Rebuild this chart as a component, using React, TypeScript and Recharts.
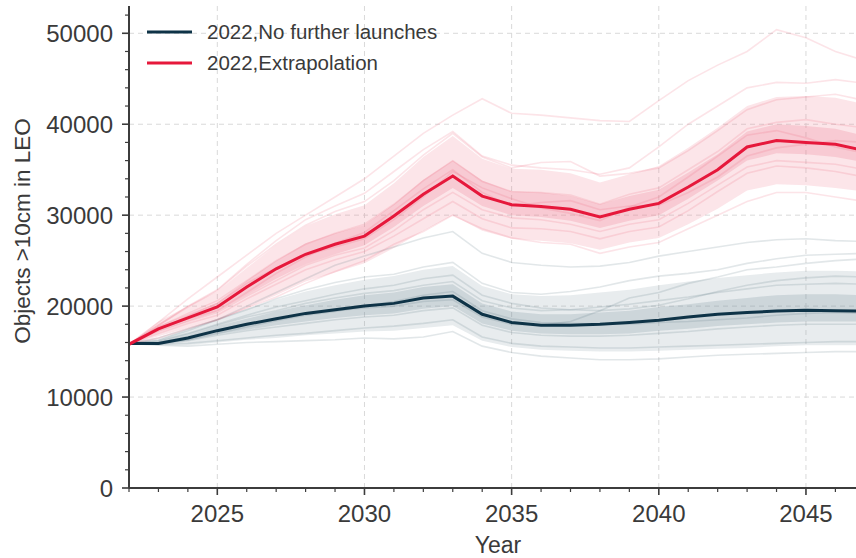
import {
  ComposedChart,
  Line,
  Area,
  XAxis,
  YAxis,
  CartesianGrid,
  Legend,
  Label,
} from "recharts";

const YEARS = [
  2022, 2023, 2024, 2025, 2026, 2027, 2028, 2029, 2030, 2031, 2032, 2033, 2034,
  2035, 2036, 2037, 2038, 2039, 2040, 2041, 2042, 2043, 2044, 2045, 2046, 2047,
];

// mean of the runs
const NO_LAUNCH_MEAN = [
  15900, 15900, 16500, 17300, 18000, 18600, 19200, 19600, 20000, 20300, 20900, 21100, 19100,
  18200, 17900, 17900, 18000, 18200, 18450, 18800, 19100, 19300, 19450, 19550, 19500, 19450,
];
const EXTRAP_MEAN = [
  15800, 17500, 18700, 19900, 22100, 24100, 25700, 26800, 27700, 29900, 32300, 34300, 32100,
  31150, 30950, 30650, 29800, 30650, 31300, 33100, 35000, 37500, 38200, 38000, 37800, 37100,
];

// spread of the ensembles (outer and inner)
const NO_LAUNCH_LO = [
  15900, 15700, 15700, 16000, 16300, 16500, 16800, 17000, 17200, 17300, 17600, 17900, 16200,
  15500, 15200, 15100, 15000, 15000, 15100, 15200, 15300, 15400, 15600, 15700, 15700, 15700,
];
const NO_LAUNCH_HI = [
  15900, 16300, 17500, 18600, 19700, 20700, 21600, 22300, 22900, 23300, 24000, 24400, 22200,
  21300, 21100, 21200, 21500, 21800, 22300, 22700, 23100, 23400, 23700, 23900, 23900, 23800,
];
const NO_LAUNCH_CORE_LO = [
  15900, 15850, 16200, 16900, 17400, 17900, 18300, 18700, 19000, 19200, 19700, 20000, 18100,
  17300, 17000, 16900, 16900, 17000, 17300, 17500, 17800, 18000, 18200, 18300, 18300, 18300,
];
const NO_LAUNCH_CORE_HI = [
  15900, 16050, 16800, 17800, 18600, 19400, 20100, 20700, 21200, 21500, 22100, 22400, 20300,
  19400, 19100, 19100, 19300, 19500, 19900, 20200, 20600, 20900, 21200, 21300, 21300, 21200,
];
const EXTRAP_LO = [
  15800, 16700, 17600, 18400, 19800, 21200, 22700, 23700, 24700, 26400, 28300, 30000, 28300,
  27400, 27200, 26900, 26200, 27000, 27500, 29000, 30700, 32700, 33400, 33300, 33000, 32600,
];
const EXTRAP_HI = [
  15800, 18300, 20000, 21600, 24200, 26700, 28800, 30100, 31100, 33500, 36400, 38700, 36200,
  35100, 35000, 34600, 33600, 34500, 35400, 37400, 39600, 42000, 43000, 43100, 42900, 42200,
];
const EXTRAP_CORE_LO = [
  15800, 17200, 18300, 19400, 21200, 23000, 24600, 25700, 26700, 28700, 31000, 33000, 31000,
  30000, 29800, 29400, 28600, 29400, 30000, 31800, 33800, 36000, 36800, 36700, 36400, 35800,
];
const EXTRAP_CORE_HI = [
  15800, 17800, 19100, 20400, 22800, 25000, 26900, 28000, 28900, 31200, 33900, 36000, 33800,
  32600, 32500, 32100, 31200, 32100, 32800, 34700, 36700, 39200, 40000, 39800, 39500, 38700,
];

// individual Monte Carlo runs
const NO_LAUNCH_RUNS = [
  [15900, 16500, 17500, 18500, 20000, 21500, 23000, 24500, 25500, 26500, 27500, 28200, 25800, 24800, 24500, 24300, 24400, 24800, 25500, 26000, 26500, 27000, 27300, 27400, 27200, 27100],
  [15900, 15700, 15600, 15800, 16000, 16100, 16200, 16300, 16500, 16400, 16600, 17200, 15600, 14900, 14500, 14300, 14100, 14100, 14200, 14400, 14600, 14700, 14800, 14900, 15000, 15000],
  [15900, 16100, 16900, 17900, 18800, 19500, 20300, 20900, 21400, 21700, 22300, 22700, 20600, 19800, 19500, 19600, 19900, 20200, 20600, 21000, 21500, 21900, 22300, 22400, 22500, 22400],
  [15900, 15800, 16200, 16800, 17300, 17700, 18100, 18500, 18800, 19000, 19500, 19800, 17900, 17100, 16800, 16700, 16700, 16800, 17000, 17200, 17500, 17700, 17900, 18000, 18000, 18000],
  [15900, 16000, 16600, 17400, 18000, 18500, 19100, 19500, 19800, 20000, 20500, 20700, 18800, 18000, 17900, 18300, 19500, 20900, 21500, 22500, 23200, 24000, 24300, 24700, 25000, 25200],
  [15900, 15900, 16300, 17000, 17700, 18400, 19000, 19400, 20000, 20500, 21200, 21600, 19500, 18600, 18200, 18100, 18000, 18000, 18200, 18300, 18500, 18700, 19000, 19200, 19300, 19200],
  [15900, 16300, 17300, 18500, 19600, 20800, 21800, 22600, 23200, 23500, 24300, 24800, 22500, 21500, 21300, 21600, 22100, 22800, 23300, 23600, 24000, 24700, 25200, 25600, 25700, 25800],
  [15900, 15800, 15900, 16200, 16500, 16800, 17000, 17300, 17600, 17800, 18100, 18500, 16600, 15900, 15600, 15500, 15400, 15400, 15500, 15600, 15700, 15800, 15900, 16000, 16100, 16100],
  [15900, 16200, 17000, 18000, 19000, 19900, 20600, 21300, 21900, 22300, 23000, 23400, 21200, 20300, 19800, 19600, 19500, 19700, 20100, 20800, 21600, 22300, 22800, 23100, 23300, 23200],
];
const EXTRAP_RUNS = [
  [15800, 18200, 20800, 23200, 25600, 28000, 30000, 32000, 34000, 36500, 39000, 41000, 42800, 41200, 41000, 40700, 40400, 40300, 42600, 44800, 46500, 48000, 50400, 49500, 48000, 47000],
  [15800, 17900, 20000, 21800, 24600, 27200, 29500, 31000, 32400, 34800, 37200, 39200, 36500, 35500, 35200, 35000, 34500, 35200, 37500, 40000, 42000, 44000, 44600, 44500, 44900, 44500],
  [15800, 16500, 17500, 18500, 19800, 21000, 22500, 23800, 25000, 26800, 28200, 30000, 28500, 27500, 27000, 26800, 25800, 26500, 27000, 28500, 30000, 31500, 32500, 32500, 32000, 31500],
  [15800, 17700, 19200, 20600, 22800, 25000, 26800, 28000, 29000, 31200, 33800, 36000, 33700, 32600, 32500, 32200, 31200, 32300, 33000, 35000, 37000, 39500, 40200, 40500, 40000, 39600],
  [15800, 17200, 18300, 19300, 21100, 22800, 24500, 25600, 26400, 28300, 30600, 32500, 30600, 29700, 29500, 29000, 28200, 29000, 29500, 31300, 33300, 35300, 36000, 35800, 35600, 35000],
  [15800, 17400, 18900, 20300, 22500, 24200, 25600, 26500, 27400, 29500, 32000, 34800, 33000, 31800, 30800, 30200, 29400, 30900, 32000, 34200, 36500, 38800, 39300, 38500, 37500, 36800],
  [15800, 17600, 18600, 19500, 21500, 23600, 25400, 26900, 28100, 30500, 32900, 35000, 32500, 31000, 31400, 31600, 30600, 31000, 31100, 32500, 34200, 36500, 37400, 37800, 38200, 38000],
  [15800, 17900, 19900, 21700, 24400, 26800, 28900, 30400, 31500, 33800, 36600, 39000, 36400, 35200, 35800, 35900, 34300, 34600, 35200, 37100, 39300, 41600, 42700, 43000, 43300, 42600],
  [15800, 17000, 18100, 19000, 20800, 22400, 24000, 25100, 26000, 27700, 29600, 31500, 29600, 28600, 28500, 28200, 27400, 28200, 28700, 30500, 32600, 34600, 35400, 35200, 34800, 34200],
];

const X_TICKS = [
  2022, 2023, 2024, 2025, 2026, 2027, 2028, 2029, 2030, 2031, 2032, 2033, 2034,
  2035, 2036, 2037, 2038, 2039, 2040, 2041, 2042, 2043, 2044, 2045, 2046,
];
const Y_TICKS = [
  0, 2000, 4000, 6000, 8000, 10000, 12000, 14000, 16000, 18000, 20000, 22000, 24000, 26000,
  28000, 30000, 32000, 34000, 36000, 38000, 40000, 42000, 44000, 46000, 48000, 50000, 52000,
];
const X_GRID = [2025, 2030, 2035, 2040, 2045];
const Y_GRID = [10000, 20000, 30000, 40000, 50000];

const DARK = "#0e3347";
const RED = "#e6183b";
const AXIS = "#3c3c3c";
const TEXT = "#3a3a3a";
const FONT = '"Liberation Sans", Arial, sans-serif';

const LEGEND_ITEMS = [
  { label: "2022,No further launches", color: DARK },
  { label: "2022,Extrapolation", color: RED },
];

const rows = YEARS.map((year, i) => {
  const row: any = {
    year,
    noLaunch: NO_LAUNCH_MEAN[i],
    extrap: EXTRAP_MEAN[i],
    darkBand: [NO_LAUNCH_LO[i], NO_LAUNCH_HI[i]],
    darkCore: [NO_LAUNCH_CORE_LO[i], NO_LAUNCH_CORE_HI[i]],
    redBand: [EXTRAP_LO[i], EXTRAP_HI[i]],
    redCore: [EXTRAP_CORE_LO[i], EXTRAP_CORE_HI[i]],
  };
  NO_LAUNCH_RUNS.forEach((run, k) => (row[`d${k}`] = run[i]));
  EXTRAP_RUNS.forEach((run, k) => (row[`r${k}`] = run[i]));
  return row;
});

function XTick({ x, y, payload }: any) {
  const major = payload.value % 5 === 0;
  return (
    <g>
      <line x1={x} y1={y} x2={x} y2={y + (major ? 7 : 4)} stroke={AXIS} strokeWidth={major ? 1.6 : 1.2} />
      {major && (
        <text x={x} y={y + 33.5} textAnchor="middle" fontSize={24} fill={TEXT} fontFamily={FONT}>
          {payload.value}
        </text>
      )}
    </g>
  );
}

function YTick({ x, y, payload }: any) {
  const major = payload.value % 10000 === 0;
  return (
    <g>
      <line x1={x - (major ? 7 : 4)} y1={y} x2={x} y2={y} stroke={AXIS} strokeWidth={major ? 1.6 : 1.2} />
      {major && (
        <text x={x - 16} y={y} dy="0.36em" textAnchor="end" fontSize={24} fill={TEXT} fontFamily={FONT}>
          {payload.value}
        </text>
      )}
    </g>
  );
}

function LegendBox() {
  return (
    <div style={{ fontFamily: FONT }}>
      {LEGEND_ITEMS.map((item) => (
        <div key={item.label} style={{ display: "flex", alignItems: "center", height: 30.5 }}>
          <svg width={45} height={4} style={{ display: "block" }}>
            <line x1={0} y1={2} x2={45} y2={2} stroke={item.color} strokeWidth={3} />
          </svg>
          <span style={{ marginLeft: 15, fontSize: 20.5, color: TEXT, whiteSpace: "nowrap" }}>
            {item.label}
          </span>
        </div>
      ))}
    </div>
  );
}

function band(key: string, fill: string, opacity: number) {
  return (
    <Area
      key={key}
      dataKey={key}
      type="linear"
      stroke="none"
      fill={fill}
      fillOpacity={opacity}
      activeDot={false}
      isAnimationActive={false}
    />
  );
}

function runLine(key: string, color: string) {
  return (
    <Line
      key={key}
      dataKey={key}
      type="linear"
      stroke={color}
      strokeOpacity={0.16}
      strokeWidth={1.6}
      dot={false}
      activeDot={false}
      isAnimationActive={false}
    />
  );
}

export default function App() {
  return (
    <div style={{ position: "absolute", left: 0, top: 0, width: 856, height: 558, background: "#fff" }}>
      <ComposedChart width={856} height={558} data={rows} margin={{ top: 6, right: 0, bottom: 0, left: 0 }}>
        <CartesianGrid
          stroke="#d9d9d9"
          strokeDasharray="5 4"
          horizontalValues={Y_GRID}
          verticalValues={X_GRID}
        />
        <XAxis
          dataKey="year"
          type="number"
          domain={[2022, 2046.7]}
          allowDataOverflow
          ticks={X_TICKS}
          interval={0}
          height={70}
          tickSize={0}
          tickMargin={0}
          tick={<XTick />}
          axisLine={{ stroke: AXIS, strokeWidth: 2 }}
        >
          <Label
            content={() => (
              <text x={498} y={553} textAnchor="middle" fontSize={23} fill={TEXT} fontFamily={FONT}>
                Year
              </text>
            )}
          />
        </XAxis>
        <XAxis
          xAxisId="top"
          orientation="top"
          type="number"
          dataKey="year"
          domain={[2022, 2046.7]}
          allowDataOverflow
          height={0}
          tick={false}
          tickLine={false}
          axisLine={{ stroke: AXIS, strokeWidth: 2 }}
        />
        <YAxis
          type="number"
          domain={[0, 53000]}
          ticks={Y_TICKS}
          interval={0}
          width={129}
          tickSize={0}
          tickMargin={0}
          tick={<YTick />}
          axisLine={{ stroke: AXIS, strokeWidth: 2 }}
        >
          <Label
            content={() => (
              <text
                x={22}
                y={231}
                transform="rotate(-90 22 231)"
                dy="0.36em"
                textAnchor="middle"
                fontSize={22.5}
                fill={TEXT}
                fontFamily={FONT}
              >
                {"Objects >10cm in LEO"}
              </text>
            )}
          />
        </YAxis>

        {band("darkBand", "#8aa0ab", 0.2)}
        {band("darkCore", "#6f8894", 0.22)}
        {NO_LAUNCH_RUNS.map((_, k) => runLine(`d${k}`, "#4d6b79"))}
        {band("redBand", "#f07c90", 0.2)}
        {band("redCore", "#ee6c83", 0.22)}
        {EXTRAP_RUNS.map((_, k) => runLine(`r${k}`, "#ea5a72"))}
        <Line
          dataKey="noLaunch"
          type="linear"
          stroke={DARK}
          strokeWidth={3}
          dot={false}
          activeDot={false}
          isAnimationActive={false}
        />
        <Line
          dataKey="extrap"
          type="linear"
          stroke={RED}
          strokeWidth={3}
          dot={false}
          activeDot={false}
          isAnimationActive={false}
        />
        <Legend
          layout="vertical"
          align="center"
          verticalAlign="middle"
          wrapperStyle={{ left: 147, top: 17, width: 320, right: "auto", bottom: "auto" }}
          content={() => <LegendBox />}
        />
      </ComposedChart>
    </div>
  );
}
